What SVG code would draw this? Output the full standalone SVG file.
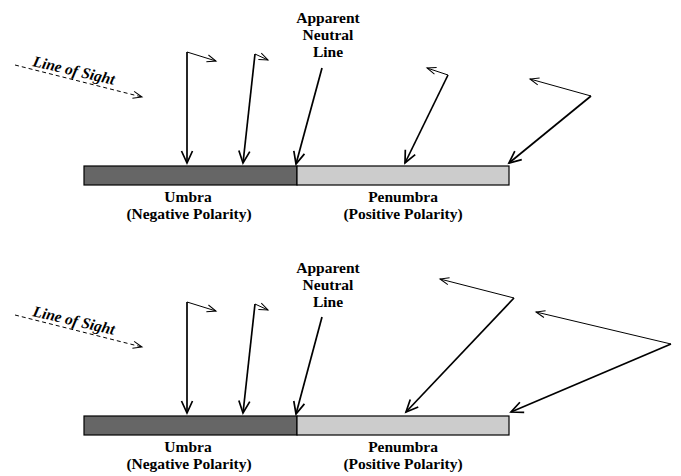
<svg xmlns="http://www.w3.org/2000/svg" width="681" height="476" viewBox="0 0 681 476">
<style>
text{font-family:"Liberation Serif","Times New Roman",serif;font-weight:bold;font-size:15.5px;fill:#000;text-anchor:middle}
.los{font-style:italic;text-anchor:start}
.main{stroke:#000;stroke-width:1.7;fill:none;marker-end:url(#ah)}
.refl{stroke:#000;stroke-width:1;fill:none;marker-end:url(#ahs)}
.dash{stroke:#000;stroke-width:1;fill:none;stroke-dasharray:4,3;marker-end:url(#ahs)}
.umbra{fill:#666666;stroke:#000;stroke-width:1.2}
.pen{fill:#cccccc;stroke:#000;stroke-width:1.2}
</style>
<defs>
<marker id="ah" markerUnits="userSpaceOnUse" markerWidth="16" markerHeight="14" refX="13" refY="7" orient="auto">
<path d="M1,1.5 L13,7 L1,12.5" fill="none" stroke="#000" stroke-width="1.7"/>
</marker>
<marker id="ahs" markerUnits="userSpaceOnUse" markerWidth="12" markerHeight="10" refX="10" refY="5" orient="auto">
<path d="M1,1.5 L10,5 L1,8.5" fill="none" stroke="#000" stroke-width="1"/>
</marker>
</defs>
<g id="top">
<g id="top-bar">
<rect class="umbra" x="84" y="166" width="213" height="19"/>
<rect class="pen" x="297" y="166" width="212" height="19"/>
</g>
<g id="top-umbra-label"><text x="188" y="202">Umbra</text><text x="189" y="219">(Negative Polarity)</text></g>
<g id="top-penumbra-label"><text x="403" y="202">Penumbra</text><text x="403" y="219">(Positive Polarity)</text></g>
<g id="top-anl-label"><text x="328" y="23">Apparent</text><text x="328" y="40">Neutral</text><text x="328" y="57">Line</text></g>
<g id="top-los"><text class="los" transform="translate(32,66) rotate(13)">Line of Sight</text></g>
<g id="top-connectors">
<path class="dash" d="M15,65 L142,97"/>
<path class="main" d="M187,52 L187,163"/>
<path class="refl" d="M187,52 L216,61"/>
<path class="main" d="M255,54 L243,163"/>
<path class="refl" d="M255,54 L268,60"/>
<path class="main" d="M322,68 L296,164"/>
<path class="main" d="M448,75 L405,163"/>
<path class="refl" d="M448,75 L427,68"/>
<path class="main" d="M591,96 L509,163"/>
<path class="refl" d="M591,96 L530,79"/>
</g>
</g>
<g id="bottom">
<g id="bottom-bar">
<rect class="umbra" x="84" y="416" width="213" height="19"/>
<rect class="pen" x="297" y="416" width="212" height="19"/>
</g>
<g id="bottom-umbra-label"><text x="188" y="452">Umbra</text><text x="189" y="469">(Negative Polarity)</text></g>
<g id="bottom-penumbra-label"><text x="403" y="452">Penumbra</text><text x="403" y="469">(Positive Polarity)</text></g>
<g id="bottom-anl-label"><text x="328" y="273">Apparent</text><text x="328" y="290">Neutral</text><text x="328" y="307">Line</text></g>
<g id="bottom-los"><text class="los" transform="translate(32,316) rotate(13)">Line of Sight</text></g>
<g id="bottom-connectors">
<path class="dash" d="M15,315 L142,347"/>
<path class="main" d="M187,302 L187,413"/>
<path class="refl" d="M187,302 L216,311"/>
<path class="main" d="M255,304 L243,413"/>
<path class="refl" d="M255,304 L268,310"/>
<path class="main" d="M322,317 L296,414"/>
<path class="main" d="M514,298 L406,412"/>
<path class="refl" d="M514,298 L440,279"/>
<path class="main" d="M671,344 L511,412"/>
<path class="refl" d="M671,344 L536,312"/>
</g>
</g>
</svg>
